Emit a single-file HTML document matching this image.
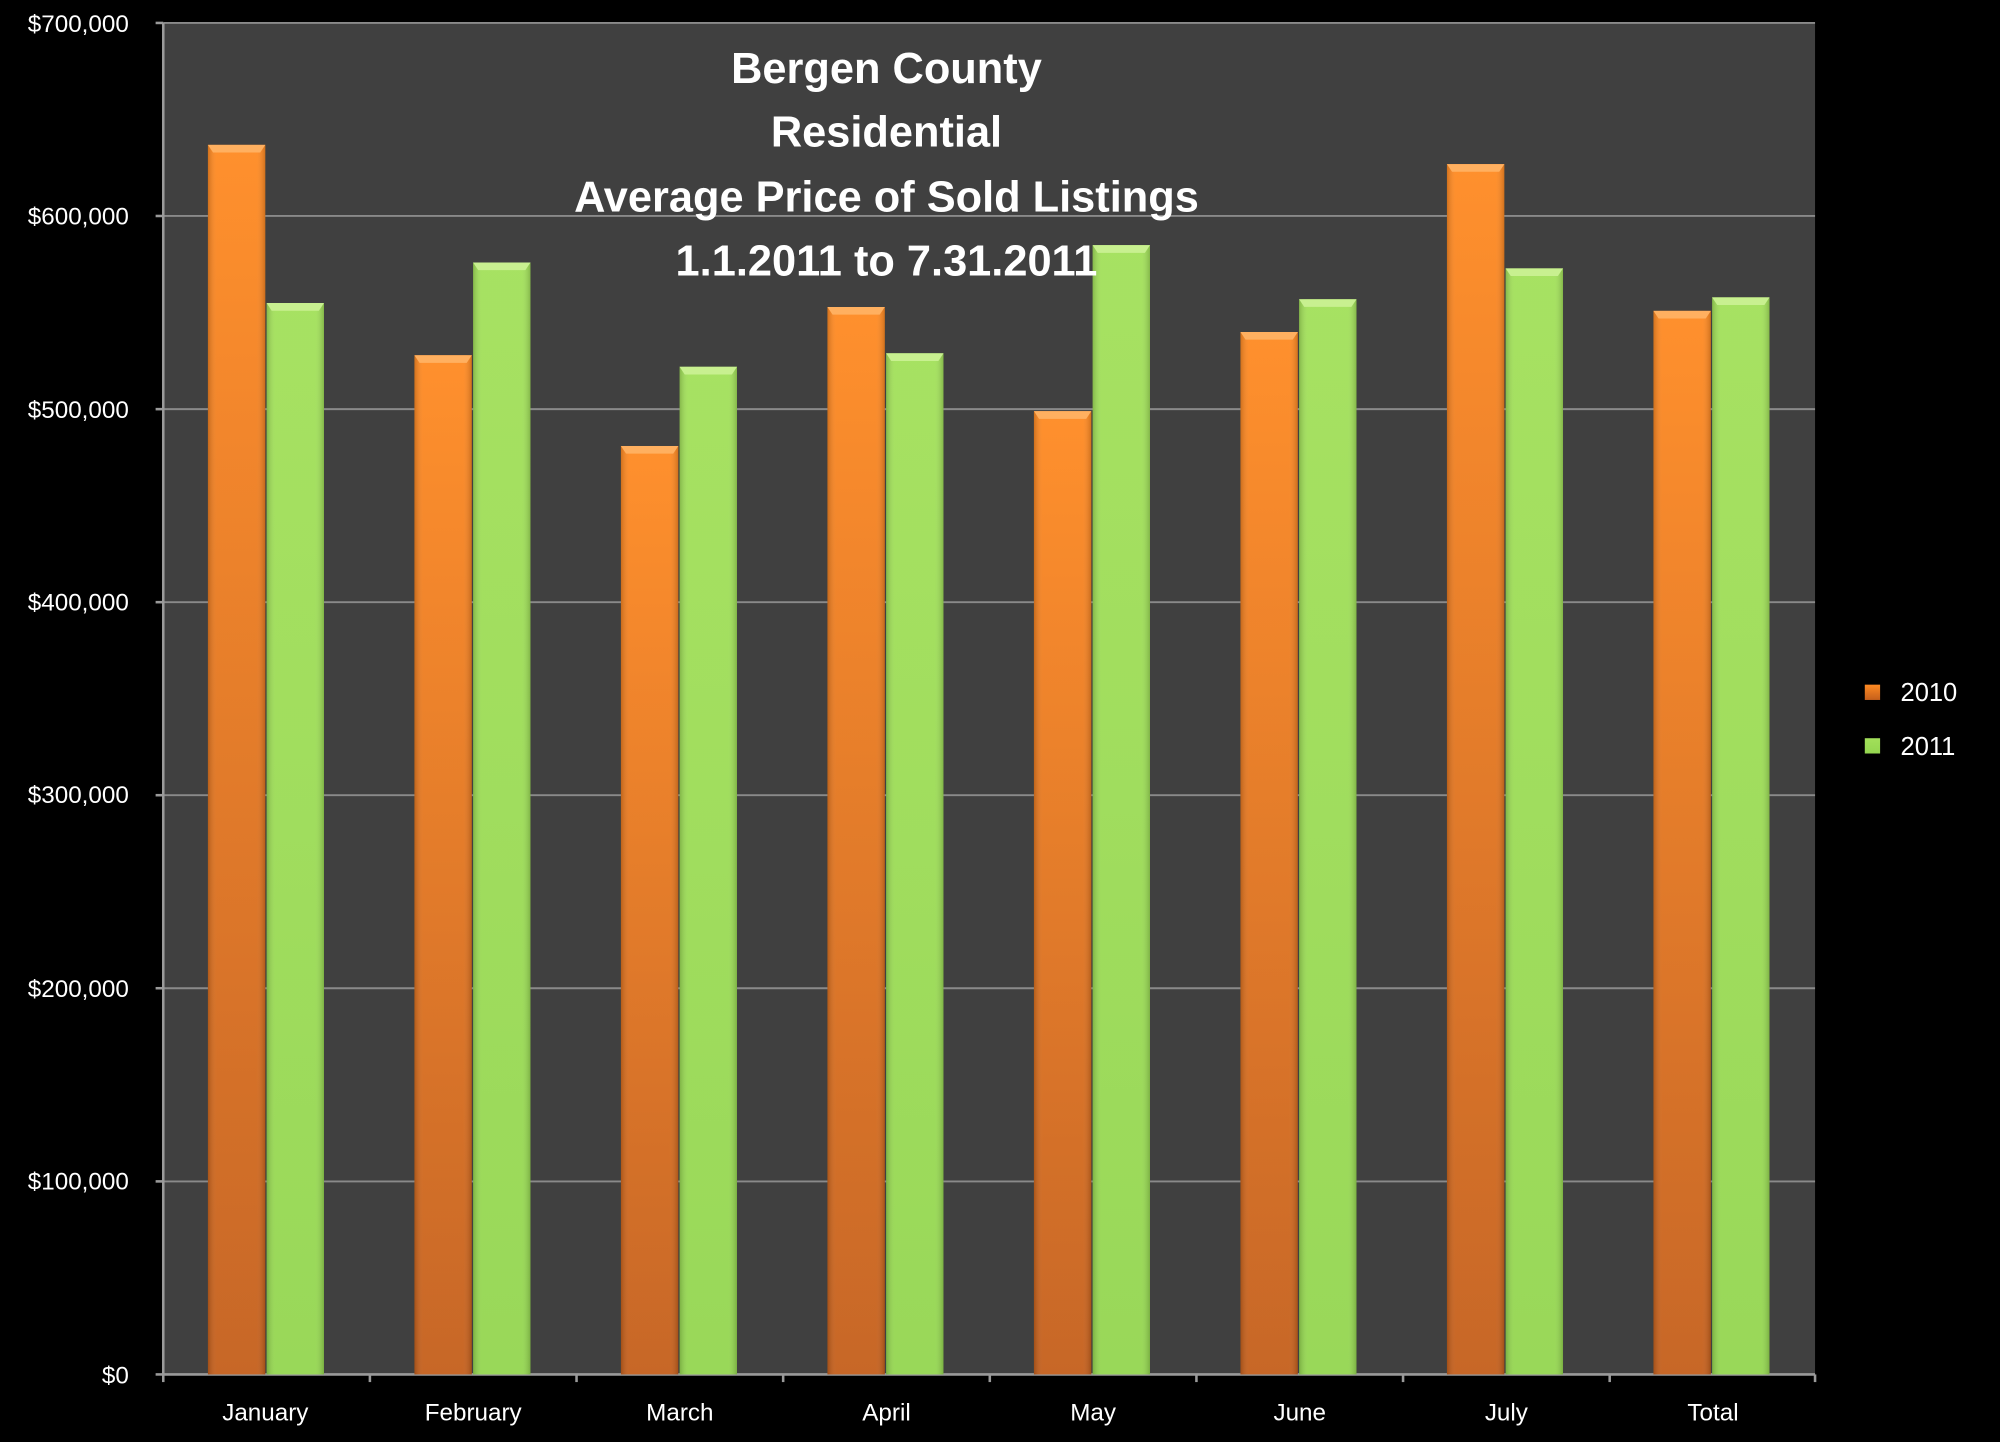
<!DOCTYPE html>
<html><head><meta charset="utf-8"><style>
html,body{margin:0;padding:0;background:#000;}
svg{display:block;}
text{font-family:"Liberation Sans",sans-serif;}
</style></head><body>
<svg width="2000" height="1442" viewBox="0 0 1568 1131" preserveAspectRatio="none" xmlns="http://www.w3.org/2000/svg">
<defs>
<linearGradient id="ov" x1="0" y1="0" x2="0" y2="1"><stop offset="0" stop-color="#ff8a22"/><stop offset="1" stop-color="#c45f1c"/></linearGradient>
<linearGradient id="gv" x1="0" y1="0" x2="0" y2="1"><stop offset="0" stop-color="#a2e05a"/><stop offset="1" stop-color="#94d650"/></linearGradient>
<linearGradient id="sh" x1="0" y1="0" x2="1" y2="0"><stop offset="0" stop-color="#000" stop-opacity="0.18"/><stop offset="0.15" stop-color="#fff" stop-opacity="0.05"/><stop offset="0.85" stop-color="#fff" stop-opacity="0.05"/><stop offset="1" stop-color="#000" stop-opacity="0.18"/></linearGradient>
</defs>
<rect x="0" y="0" width="1568" height="1131" fill="#000"/>
<rect x="128" y="18" width="1295" height="1060" fill="#404040"/>
<g stroke="#8a8a8a" stroke-width="1.5">
<line x1="128" y1="18" x2="1423" y2="18"/>
<line x1="128" y1="169.4" x2="1423" y2="169.4"/>
<line x1="128" y1="320.9" x2="1423" y2="320.9"/>
<line x1="128" y1="472.3" x2="1423" y2="472.3"/>
<line x1="128" y1="623.7" x2="1423" y2="623.7"/>
<line x1="128" y1="775.1" x2="1423" y2="775.1"/>
<line x1="128" y1="926.6" x2="1423" y2="926.6"/>
</g>
<g stroke="#9a9a9a" stroke-width="2">
<line x1="128" y1="18" x2="128" y2="1078"/>
<line x1="128" y1="1078" x2="1423" y2="1078"/>
<line x1="122" y1="18" x2="128" y2="18"/><line x1="122" y1="169.4" x2="128" y2="169.4"/><line x1="122" y1="320.9" x2="128" y2="320.9"/><line x1="122" y1="472.3" x2="128" y2="472.3"/><line x1="122" y1="623.7" x2="128" y2="623.7"/><line x1="122" y1="775.1" x2="128" y2="775.1"/><line x1="122" y1="926.6" x2="128" y2="926.6"/><line x1="122" y1="1078" x2="128" y2="1078"/>
<line x1="128" y1="1078" x2="128" y2="1084"/><line x1="290" y1="1078" x2="290" y2="1084"/><line x1="452" y1="1078" x2="452" y2="1084"/><line x1="614" y1="1078" x2="614" y2="1084"/><line x1="776" y1="1078" x2="776" y2="1084"/><line x1="938" y1="1078" x2="938" y2="1084"/><line x1="1100" y1="1078" x2="1100" y2="1084"/><line x1="1262" y1="1078" x2="1262" y2="1084"/><line x1="1423" y1="1078" x2="1423" y2="1084"/>
</g>
<!-- orange bars -->
<g fill="url(#ov)">
<rect x="163" y="113.6" width="45" height="964.4"/>
<rect x="324.9" y="278.6" width="45" height="799.4"/>
<rect x="486.8" y="349.8" width="45" height="728.2"/>
<rect x="648.7" y="240.8" width="45" height="837.2"/>
<rect x="810.6" y="322.5" width="45" height="755.5"/>
<rect x="972.5" y="260.4" width="45" height="817.6"/>
<rect x="1134.4" y="128.7" width="45" height="949.3"/>
<rect x="1296.3" y="243.8" width="45" height="834.2"/>
</g>
<g fill="url(#gv)">
<rect x="209" y="237.7" width="45" height="840.3"/>
<rect x="370.9" y="205.9" width="45" height="872.1"/>
<rect x="532.8" y="287.7" width="45" height="790.3"/>
<rect x="694.7" y="277.1" width="45" height="800.9"/>
<rect x="856.6" y="192.3" width="45" height="885.7"/>
<rect x="1018.5" y="234.7" width="45" height="843.3"/>
<rect x="1180.4" y="210.5" width="45" height="867.5"/>
<rect x="1342.3" y="233.2" width="45" height="844.8"/>
</g>
<g fill="url(#sh)">
<rect x="163" y="113.6" width="45" height="964.4"/>
<rect x="324.9" y="278.6" width="45" height="799.4"/>
<rect x="486.8" y="349.8" width="45" height="728.2"/>
<rect x="648.7" y="240.8" width="45" height="837.2"/>
<rect x="810.6" y="322.5" width="45" height="755.5"/>
<rect x="972.5" y="260.4" width="45" height="817.6"/>
<rect x="1134.4" y="128.7" width="45" height="949.3"/>
<rect x="1296.3" y="243.8" width="45" height="834.2"/>
<rect x="209" y="237.7" width="45" height="840.3"/>
<rect x="370.9" y="205.9" width="45" height="872.1"/>
<rect x="532.8" y="287.7" width="45" height="790.3"/>
<rect x="694.7" y="277.1" width="45" height="800.9"/>
<rect x="856.6" y="192.3" width="45" height="885.7"/>
<rect x="1018.5" y="234.7" width="45" height="843.3"/>
<rect x="1180.4" y="210.5" width="45" height="867.5"/>
<rect x="1342.3" y="233.2" width="45" height="844.8"/>
</g>
<g fill="#ffb060">
<polygon points="163,113.6 208,113.6 204,119.6 167,119.6"/>
<polygon points="324.9,278.6 369.9,278.6 365.9,284.6 328.9,284.6"/>
<polygon points="486.8,349.8 531.8,349.8 527.8,355.8 490.8,355.8"/>
<polygon points="648.7,240.8 693.7,240.8 689.7,246.8 652.7,246.8"/>
<polygon points="810.6,322.5 855.6,322.5 851.6,328.5 814.6,328.5"/>
<polygon points="972.5,260.4 1017.5,260.4 1013.5,266.4 976.5,266.4"/>
<polygon points="1134.4,128.7 1179.4,128.7 1175.4,134.7 1138.4,134.7"/>
<polygon points="1296.3,243.8 1341.3,243.8 1337.3,249.8 1300.3,249.8"/>
</g>
<g fill="#c8f090">
<polygon points="209,237.7 254,237.7 250,243.7 213,243.7"/>
<polygon points="370.9,205.9 415.9,205.9 411.9,211.9 374.9,211.9"/>
<polygon points="532.8,287.7 577.8,287.7 573.8,293.7 536.8,293.7"/>
<polygon points="694.7,277.1 739.7,277.1 735.7,283.1 698.7,283.1"/>
<polygon points="856.6,192.3 901.6,192.3 897.6,198.3 860.6,198.3"/>
<polygon points="1018.5,234.7 1063.5,234.7 1059.5,240.7 1022.5,240.7"/>
<polygon points="1180.4,210.5 1225.4,210.5 1221.4,216.5 1184.4,216.5"/>
<polygon points="1342.3,233.2 1387.3,233.2 1383.3,239.2 1346.3,239.2"/>
</g>
<g fill="#fff" font-size="19" text-anchor="end">
<text x="101" y="25">$700,000</text><text x="101" y="176">$600,000</text><text x="101" y="328">$500,000</text><text x="101" y="479">$400,000</text><text x="101" y="630">$300,000</text><text x="101" y="782">$200,000</text><text x="101" y="933">$100,000</text><text x="101" y="1085">$0</text>
</g>
<g fill="#fff" font-size="19" text-anchor="middle">
<text x="208" y="1114">January</text><text x="371" y="1114">February</text><text x="533" y="1114">March</text><text x="695" y="1114">April</text><text x="857" y="1114">May</text><text x="1019" y="1114">June</text><text x="1181" y="1114">July</text><text x="1343" y="1114">Total</text>
</g>
<g fill="#fff" font-size="34" font-weight="bold" text-anchor="middle">
<text x="695" y="65">Bergen County</text><text x="695" y="115">Residential</text><text x="695" y="166">Average Price of Sold Listings</text><text x="695" y="216">1.1.2011 to 7.31.2011</text>
</g>
<rect x="1462" y="537" width="12" height="12" fill="url(#ov)"/>
<rect x="1462" y="579" width="12" height="12" fill="url(#gv)"/>
<g fill="#fff" font-size="20"><text x="1490" y="550">2010</text><text x="1490" y="592">2011</text></g>
</svg>
</body></html>
